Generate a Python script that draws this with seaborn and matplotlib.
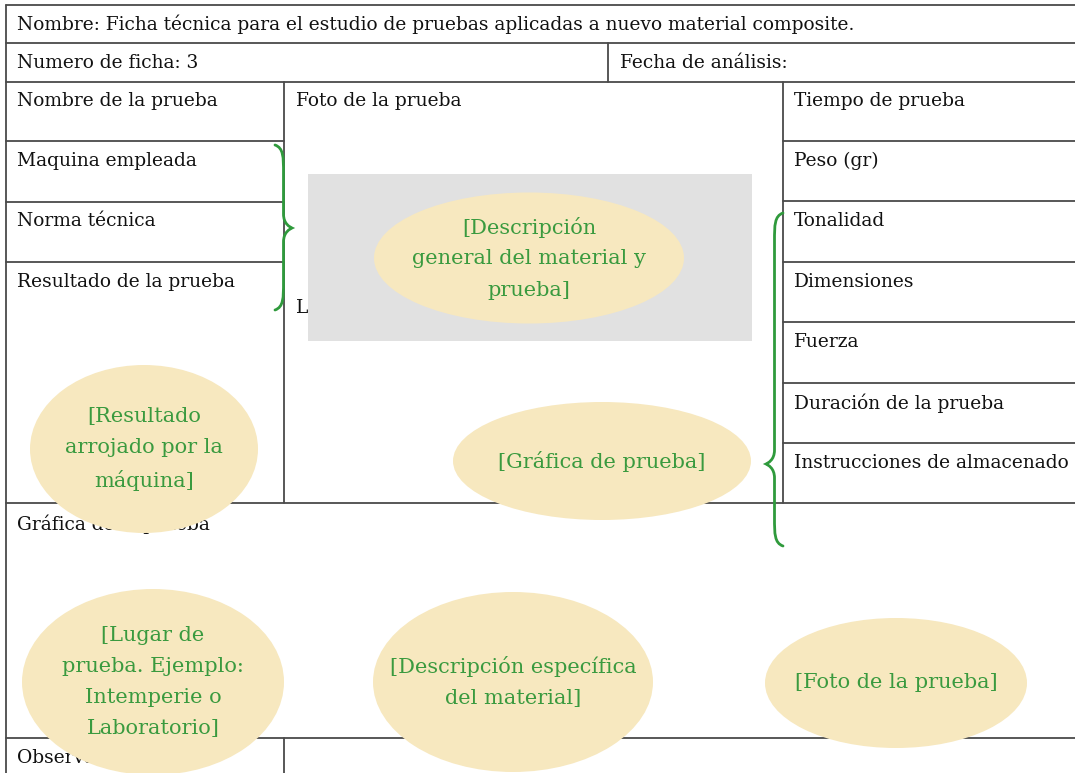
import numpy as np
import matplotlib
matplotlib.use("Agg")
import matplotlib.pyplot as plt
import seaborn as sns
from matplotlib.patches import Ellipse, Rectangle, PathPatch
from matplotlib.path import Path

# form texts
title = "Nombre: Ficha técnica para el estudio de pruebas aplicadas a nuevo material composite."
ficha = "Numero de ficha: 3"
fecha = "Fecha de análisis:"
left_labels = ["Nombre de la prueba", "Maquina empleada", "Norma técnica", "Resultado de la prueba"]
right_labels = ["Tiempo de prueba", "Peso (gr)", "Tonalidad", "Dimensiones",
                "Fuerza", "Duración de la prueba", "Instrucciones de almacenado"]
middle_labels = ["Foto de la prueba", "Lugar de la prueba"]
bottom_labels = ["Gráfica de la prueba", "Observaciones"]
bubble_texts = ["[Descripción\ngeneral del material y\nprueba]",
                "[Resultado\narrojado por la\nmáquina]",
                "[Gráfica de prueba]",
                "[Lugar de\nprueba. Ejemplo:\nIntemperie o\nLaboratorio]",
                "[Descripción específica\ndel material]",
                "[Foto de la prueba]"]

# layout (pixels)
bubble_xy = [(529, 258), (144, 449), (602, 461), (153, 682), (513, 682), (896, 683)]
bubble_wh = [(310, 131), (228, 168), (298, 118), (262, 186), (280, 180), (262, 130)]

sns.set_theme(style="white")
plt.rcParams['font.family'] = ['DejaVu Serif']

fig = plt.figure(figsize=(10.75, 7.73), dpi=100)
ax = fig.add_axes([0, 0, 1, 1])
ax.set_xlim(0, 1075)
ax.set_ylim(773, 0)
ax.axis("off")

lc = "#4a4a4a"
lw = 1.3
R = 1080
# horizontal lines
for y in [5, 43, 82, 503]:
    ax.plot([6, R], [y, y], color=lc, lw=lw, zorder=1)
ax.plot([6, R], [738, 738], color=lc, lw=lw, zorder=1)
for y in [141, 202, 262]:
    ax.plot([6, 284], [y, y], color=lc, lw=lw, zorder=1)
for y in [141, 201, 262, 322, 383, 443]:
    ax.plot([783, R], [y, y], color=lc, lw=lw, zorder=1)
# vertical lines
ax.plot([6, 6], [5, 780], color=lc, lw=lw, zorder=1)
ax.plot([284, 284], [82, 503], color=lc, lw=lw, zorder=1)
ax.plot([284, 284], [738, 780], color=lc, lw=lw, zorder=1)
ax.plot([608, 608], [43, 82], color=lc, lw=lw, zorder=1)
ax.plot([783, 783], [82, 503], color=lc, lw=lw, zorder=1)

fs = 13.4
tc = "#111111"
def label(x, y, s):
    ax.text(x, y, s, fontsize=fs, color=tc, va="center", ha="left", zorder=2)

label(17, 24, title)
label(17, 63, ficha)
label(620, 63, fecha)
for s, y in zip(left_labels, [101, 161, 221, 282]):
    label(17, y, s)
for s, y in zip(right_labels, [101, 161, 221, 282, 342, 403, 463]):
    label(794, y, s)
label(296, 101, middle_labels[0])
label(296, 308, middle_labels[1])
label(17, 524, bottom_labels[0])
label(17, 758, bottom_labels[1])

# gray photo box
ax.add_patch(Rectangle((308, 174), 444, 167, facecolor="#e1e1e1", edgecolor="none", zorder=3))

# bubbles
for s, (cx, cy), (w, h) in zip(bubble_texts, bubble_xy, bubble_wh):
    ax.add_patch(Ellipse((cx, cy), w, h, facecolor="#f7e8bf", edgecolor="none", zorder=4))
    ax.text(cx, cy, s, fontsize=15.0, color="#3a9a3f", ha="center", va="center",
            linespacing=1.8, zorder=5)

# curly braces
def brace(x0, y0, y1, ym, w, d):
    s = x0 + d * 0.5 * w
    t = x0 + d * w
    verts = [(x0, y0),
             (s, y0 + 3), (s, y0 + 12), (s, y0 + 28),
             (s, ym - 14),
             (s, ym - 4), (t - d * 2, ym - 1), (t, ym),
             (t - d * 2, ym + 1), (s, ym + 4), (s, ym + 14),
             (s, y1 - 28),
             (s, y1 - 12), (s, y1 - 3), (x0, y1)]
    codes = [Path.MOVETO,
             Path.CURVE4, Path.CURVE4, Path.CURVE4,
             Path.LINETO,
             Path.CURVE4, Path.CURVE4, Path.CURVE4,
             Path.CURVE4, Path.CURVE4, Path.CURVE4,
             Path.LINETO,
             Path.CURVE4, Path.CURVE4, Path.CURVE4]
    ax.add_patch(PathPatch(Path(verts, codes), facecolor="none", edgecolor="#2f9a3c",
                           lw=2.0, capstyle="round", zorder=6))

brace(275, 145, 310, 228, 17, 1)
brace(783, 213, 546, 464, 17, -1)

fig.savefig("out.png", dpi=100)
